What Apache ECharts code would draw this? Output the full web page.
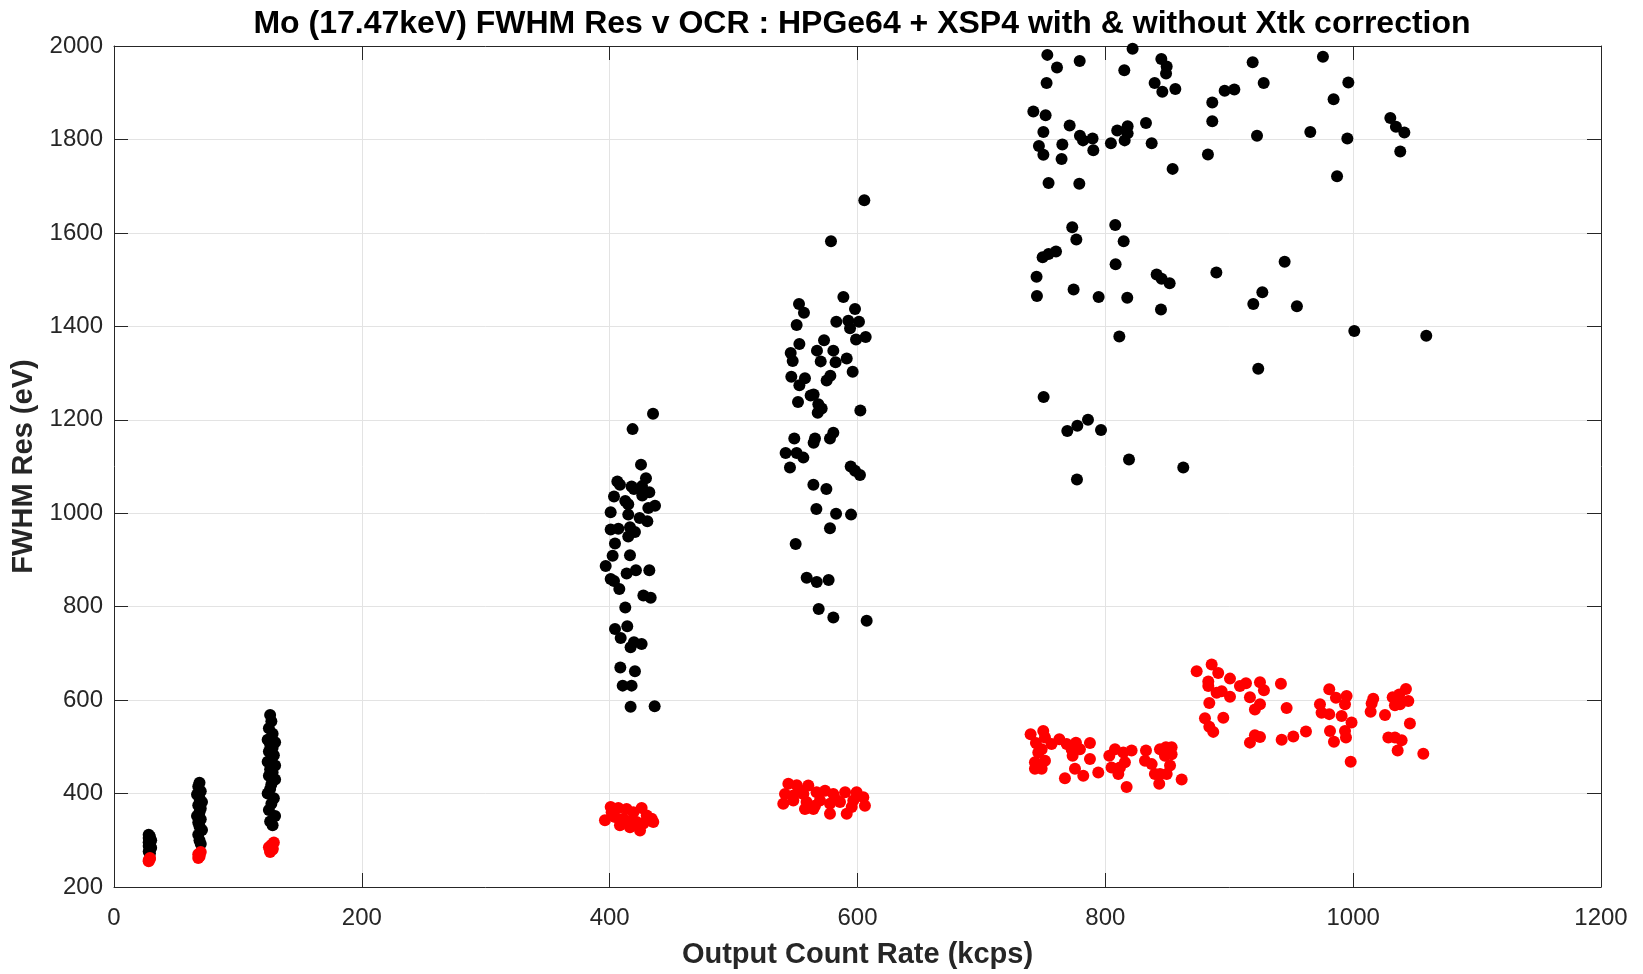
<!DOCTYPE html>
<html>
<head>
<meta charset="utf-8">
<script src="https://cdn.jsdelivr.net/npm/echarts@6/dist/echarts.min.js"></script>
<style>
  html, body { margin: 0; padding: 0; background: #ffffff; }
  #chart { width: 1643px; height: 974px; }
</style>
</head>
<body>
<div id="chart"></div>
<script>
// FWHM resolution (eV) versus output count rate (kcps), pairs of [OCR, FWHM]
const withoutXtk = [
  // ~28 kcps
  [28,312],[29,308],[28,305],[30,300],[28,296],[29,292],[28,288],[30,284],[29,280],[28,276],[29,272],
  // ~68 kcps
  [69,423],[68,415],[70,405],[67,398],[69,390],[71,382],[68,375],[70,368],[69,360],[67,352],[70,345],[68,338],[69,330],[71,322],[68,312],[69,300],[70,292],
  // ~127 kcps
  [126,568],[127,555],[125,540],[128,528],[124,515],[130,510],[126,505],[128,498],[125,490],[129,482],[127,475],[124,468],[130,460],[126,452],[128,445],[125,438],[130,430],[127,420],[126,410],[124,400],[129,390],[127,378],[125,365],[130,352],[126,340],[128,332],
  // ~420 kcps
  [435,1213],[418.5,1180],[425.3,1104],[406.2,1068],[408.3,1061],[429.3,1075],[417.7,1057],[419.6,1052],[426.1,1058],[432,1045],
  [403.5,1036],[426.3,1038],[412.6,1026],[415,1019],[431.2,1011],[436.6,1016],[400.8,1002],[415,997],[424.2,990],[430.4,983],
  [400.8,965],[407,967],[416.4,970],[420.4,960],[415,950],[404.3,935],[402.4,909],[416.4,910],[396.8,887],[413.7,871],
  [421.2,878],[432,878],[400.8,859],[403.5,855],[407.8,838],[427.2,824],[433.1,819],[412.6,798],[404.3,752],[414.2,758],
  [408.9,733],[419.6,724],[425.8,720],[416.9,713],[408.6,670],[420.4,662],[410.5,631],[417.7,631],[416.9,586],[436.3,587],
  // ~575 kcps
  [605.5,1670],[578.6,1582],[588.6,1463],[598,1437],[552.8,1448],[556.8,1429],[550.9,1403],[582.9,1410],[592.6,1412],[601.2,1410],
  [594,1396],[598.8,1372],[606.6,1377],[553.1,1362],[573,1370],[546.1,1343],[547.7,1326],[567.3,1348],[580.5,1348],[570.3,1325],
  [582.3,1323],[591.3,1331],[596.1,1303],[546.6,1292],[557.6,1289],[553.1,1274],[578.1,1294],[575.1,1284],[562.2,1252],[564.6,1254],
  [552,1238],[568.4,1233],[571.1,1224],[567.9,1215],[602.3,1220],[549,1160],[565.7,1160],[564.6,1151],[580.5,1172],[577.8,1160],
  [542,1129],[550.9,1129],[556.3,1119],[545.5,1098],[594.5,1100],[598,1091],[602,1082],[564.4,1061],[574.9,1052],[566.8,1009],
  [582.7,999],[594.8,997],[577.8,968],[550.1,934],[559,862],[567.1,853],[576.7,857],[568.7,795],[580.5,777],[607.4,770],
  // ~740-870 kcps
  [753.2,1981],[761,1954],[779.3,1968],[752.6,1921],[822,1994],[815.3,1948],[845.2,1972],[849.5,1956],[849,1941],[839.8,1921],
  [846,1902],[856.5,1908],[741.9,1860],[751.8,1852],[771.2,1830],[750,1816],[779.5,1808],[782,1798],[789.7,1802],[790.3,1777],
  [765.3,1789],[746.4,1786],[750,1767],[764.7,1758],[804.5,1792],[809.6,1819],[818,1828],[818,1813],[815.6,1798],[832.8,1835],
  [837.4,1792],[854.3,1737],[754.2,1707],[779,1705],[773.3,1612],[776.6,1586],[808,1617],[814.8,1582],[749.4,1548],[754.2,1555],
  [760.2,1560],[744.5,1506],[744.8,1465],[774.4,1479],[794.6,1463],[808.3,1533],[817.7,1461],[841.4,1511],[845.4,1502],[851.9,1492],
  [844.9,1436],[811.3,1378],[750.2,1249],[769.3,1176],[777.4,1187],[786,1200],[796.5,1178],[819.1,1115],[862.9,1098],[777.1,1072],
  // ~880-1060 kcps
  [918.9,1965],[927.8,1921],[896.3,1904],[904.1,1907],[886.3,1879],[886.3,1839],[922.4,1808],[882.8,1768],[975.6,1977],[996.1,1922],
  [984.2,1886],[965.4,1816],[995.3,1802],[987,1721],[1030,1846],[1034.5,1827],[1041.3,1815],[1038,1774],[889.6,1515],[944.7,1538],
  [926.7,1473],[919.4,1448],[954.6,1443],[1000.9,1390],[1059,1380],[923.4,1309]
];

const withXtk = [
  // ~28 kcps
  [28,258],[29,262],[28,255],[29,260],
  // ~68 kcps
  [69,265],[68,270],[70,275],[69,268],[68,262],
  // ~127 kcps
  [126,275],[128,280],[125,285],[127,290],[129,295],[126,278],[128,283],
  // ~420 kcps
  [400.8,371],[396.2,343],[407,369],[413.7,367],[425.8,369],[419.1,360],[404.3,350],[411,346],[417.8,343],[429.9,353],
  [433.9,346],[408.3,332],[416.4,328],[424.5,321],[427.2,336],[435.2,339],[421.8,339],[401.6,360],
  // ~575 kcps
  [544.2,421],[551,418],[560.3,417],[541.5,399],[548.2,396],[556.3,399],[567,403],[573.8,406],[580.5,399],[590,403],
  [599.3,403],[604.7,392],[540.1,378],[548.2,385],[558.9,382],[557.6,367],[565.7,374],[569.7,385],[577.8,378],[585.9,382],
  [596.6,385],[606,374],[591.3,357],[577.8,357],[564.4,367],[595.3,371],[581.9,389],[553.6,406],
  // ~740-870 kcps
  [739.7,527],[749.9,534],[744,508],[751.3,520],[756.6,506],[762.9,516],[768.8,506],[776.3,509],[787.6,508],[772.8,495],
  [779.5,495],[745.9,488],[748.6,495],[743.2,467],[751.3,470],[743.2,453],[748.6,453],[773.6,481],[787.6,474],[794.3,445],
  [767.4,433],[775.5,453],[782.2,438],[803.2,481],[807.8,495],[814.5,488],[821.2,492],[805,456],[811.8,456],[815.8,467],
  [810.5,442],[817.2,414],[832.8,492],[832,470],[837.4,463],[844.1,495],[848.9,499],[853.5,499],[853.5,484],[848.1,481],
  [852.2,460],[840,442],[844.1,442],[843.5,421],[849.5,442],[861.6,430],
  // ~880-1060 kcps
  [873.7,662],[885.8,676],[891.1,658],[883.1,640],[883.1,630],[889.8,616],[893.9,619],[900.6,646],[900.6,607],[908.6,630],
  [913.5,636],[924.8,638],[928,621],[916.7,606],[924.8,591],[920.7,580],[941.7,635],[883.9,594],[880.4,561],[883.9,543],
  [887.1,532],[895.2,562],[946.3,583],[920.7,525],[924.8,521],[916.7,509],[942.3,515],[951.7,522],[961.9,533],[980.7,623],
  [986.1,605],[994.7,609],[993.4,591],[973.2,591],[974.5,573],[980.7,570],[990.7,566],[998.7,552],[981.3,534],[993.4,534],
  [994.2,520],[984.5,511],[998,468],[1016.2,603],[1014.9,593],[1014.1,575],[1025.7,568],[1031.9,606],[1037.2,612],[1042.6,624],
  [1033.7,589],[1037.8,591],[1044.5,598],[1045.8,550],[1028.4,520],[1033.7,520],[1039.1,514],[1035.9,492],[1056.6,485]
];

const xRange = [0, 1200];
const yRange = [200, 2000];
const xStep = 200;
const yStep = 200;

const titleText = 'Mo (17.47keV) FWHM Res v OCR : HPGe64 + XSP4 with & without Xtk correction';
const xName = 'Output Count Rate (kcps)';
const yName = 'FWHM Res (eV)';

const FONT = 'Liberation Sans, Arial, Helvetica, sans-serif';
const AXIS_COLOR = '#262626';
const GRID_COLOR = '#e3e3e3';

const chart = echarts.init(document.getElementById('chart'), null, { renderer: 'canvas' });

const plainNumber = v => String(v);

function boxAxis(base, showLabels) {
  return Object.assign({
    type: 'value',
    axisLine: { show: true, onZero: false, lineStyle: { color: AXIS_COLOR, width: 1 } },
    axisTick: { show: true, inside: true, length: 14, lineStyle: { color: AXIS_COLOR, width: 1 } },
    axisLabel: { show: showLabels, color: AXIS_COLOR, fontFamily: FONT, fontSize: 24, formatter: plainNumber },
    splitLine: { show: showLabels, lineStyle: { color: GRID_COLOR, width: 1 } }
  }, base);
}

chart.setOption({
  backgroundColor: '#ffffff',
  animation: false,
  title: {
    text: titleText,
    left: 857, top: 3, textAlign: 'center',
    textStyle: { fontFamily: FONT, fontSize: 32, fontWeight: 'bold', color: '#000000' }
  },
  grid: { left: 114, right: 42, top: 46, bottom: 82, containLabel: false },
  xAxis: [
    boxAxis({
      position: 'bottom', min: xRange[0], max: xRange[1], interval: xStep,
      name: xName, nameLocation: 'middle', nameGap: 53,
      nameTextStyle: { fontFamily: FONT, fontSize: 29, fontWeight: 'bold', color: AXIS_COLOR },
      axisLabel: { show: true, color: AXIS_COLOR, fontFamily: FONT, fontSize: 24, margin: 19, formatter: plainNumber }
    }, true),
    boxAxis({ position: 'top', min: xRange[0], max: xRange[1], interval: xStep }, false)
  ],
  yAxis: [
    boxAxis({
      position: 'left', min: yRange[0], max: yRange[1], interval: yStep,
      name: yName, nameLocation: 'middle', nameGap: 74,
      nameTextStyle: { fontFamily: FONT, fontSize: 29, fontWeight: 'bold', color: AXIS_COLOR },
      axisLabel: { show: true, color: AXIS_COLOR, fontFamily: FONT, fontSize: 24, margin: 11, formatter: plainNumber }
    }, true),
    boxAxis({ position: 'right', min: yRange[0], max: yRange[1], interval: yStep }, false)
  ],
  series: [
    {
      name: 'without Xtk', type: 'scatter', xAxisIndex: 0, yAxisIndex: 0,
      data: withoutXtk, symbol: 'circle', symbolSize: 12,
      itemStyle: { color: '#000000', opacity: 1 }, z: 2
    },
    {
      name: 'with Xtk', type: 'scatter', xAxisIndex: 0, yAxisIndex: 0,
      data: withXtk, symbol: 'circle', symbolSize: 12,
      itemStyle: { color: '#ff0000', opacity: 1 }, z: 3
    }
  ]
});
</script>
</body>
</html>
